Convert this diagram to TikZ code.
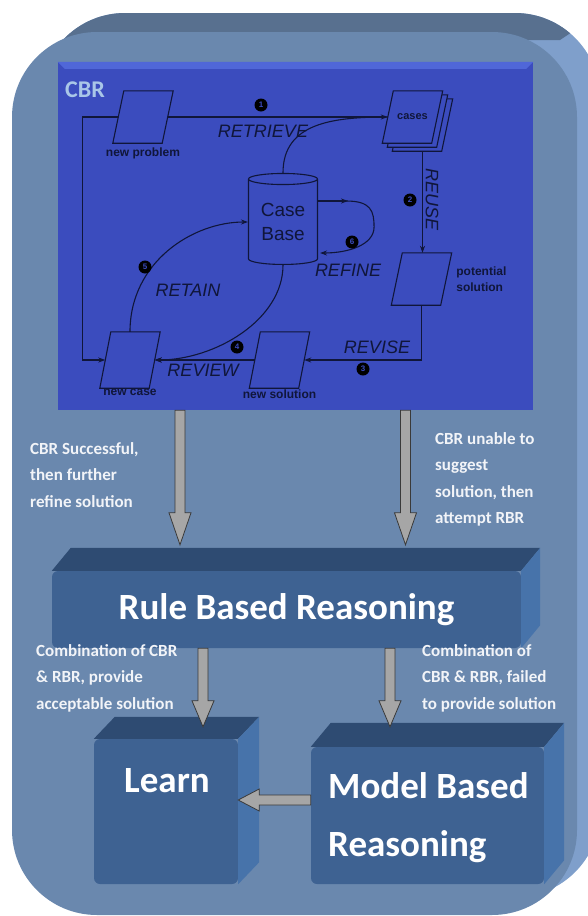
\documentclass[tikz,border=0pt]{standalone}
\usepackage{fontspec}
\setmainfont{Carlito}
\newfontfamily\scanfont{Liberation Sans}
\usetikzlibrary{calc,positioning,shapes.geometric,arrows.meta}

\definecolor{frontface}{HTML}{6A88AE}
\definecolor{backtop}{HTML}{58708F}
\definecolor{backside}{HTML}{7F9FCB}
\definecolor{cbrblue}{HTML}{3B4CBE}
\definecolor{cbrbevel}{HTML}{5067D8}
\definecolor{cbrtitle}{HTML}{A9C6E8}
\definecolor{ink}{HTML}{10163A}
\definecolor{slabfrontcol}{HTML}{3E6292}
\definecolor{slabtopcol}{HTML}{2E4B72}
\definecolor{slabsidecol}{HTML}{4773AA}
\definecolor{arrowgray}{HTML}{A6A6A6}
\definecolor{arrowedge}{HTML}{3A3A3A}
\definecolor{notewhite}{HTML}{F2F4F8}

\begin{document}
\begin{tikzpicture}[x=1pt,y=-1pt,
 >={Stealth[length=7pt,width=5pt]},
 cline/.style={draw=ink,line width=1.1pt},
 paper/.style={rectangle,minimum width=49pt,minimum height=52pt,inner sep=0pt},
 paperlabel/.style={font=\scanfont\bfseries\fontsize{12}{16}\selectfont,text=ink,inner sep=0pt},
 steplabel/.style={font=\scanfont\itshape\fontsize{18}{18}\selectfont,text=ink,inner sep=0pt},
 badge/.style={circle,fill=black,text=cbrblue,inner sep=0pt,minimum size=13pt,
   font=\scanfont\bfseries\fontsize{8}{8}\selectfont},
 slabface/.style={fill=slabfrontcol,rounded corners=6pt,inner sep=0pt,text=white,
   font=\bfseries\fontsize{37}{58}\selectfont},
 slabtext/.style={text=white,inner sep=0pt,font=\bfseries\fontsize{37}{58}\selectfont},
 note/.style={text=notewhite,font=\bfseries\fontsize{17}{26.5}\selectfont,align=left,
   inner sep=0pt,anchor=north west},
 blockarrow/.style={fill=arrowgray,draw=arrowedge,line width=0.8pt,line join=miter}
]

% [height] name, position
\newcommand{\sheet}[3][52]{
 \node[paper,minimum height=#1pt] (#2) at (#3) {};
 \filldraw[cline,fill=cbrblue] ([xshift=5.5pt]#2.north west) -- ([xshift=5.5pt]#2.north east)
   -- ([xshift=-5.5pt]#2.south east) -- ([xshift=-5.5pt]#2.south west) -- cycle;
}

% #1 node, #2 depth right, #3 depth up
\newcommand{\slab}[3]{
 \fill[slabtopcol] (#1.north west) -- ++(#2,-#3)
   -- ($(#1.north east)+(#2,-#3)$) -- (#1.north east) -- cycle;
 \fill[slabsidecol] (#1.north east) -- ++(#2,-#3)
   -- ($(#1.south east)+(#2,-#3)$) -- (#1.south east) -- cycle;
}

% [head length]{from}{to}
\newcommand{\grayarrow}[3][32]{
 \coordinate (ahb) at ($(#3)!#1pt!(#2)$);
 \filldraw[blockarrow] ($(#2)!5pt!90:(#3)$) -- ($(ahb)!5pt!90:(#3)$)
   -- ($(ahb)!11pt!90:(#3)$) -- (#3) -- ($(ahb)!11pt!-90:(#3)$)
   -- ($(ahb)!5pt!-90:(#3)$) -- ($(#2)!5pt!-90:(#3)$) -- cycle;
}

\useasboundingbox (0,0) rectangle (588,916);

% outer frame
\fill[backside,rounded corners=85pt] (40,13) rectangle (600,897);
\begin{scope}
 \clip[rounded corners=85pt] (40,13) rectangle (600,897);
 \fill[backtop] (0,0) -- (620,0) -- (560,40) -- (0,40) -- cycle;
\end{scope}
\fill[frontface,rounded corners=85pt] (12,32) rectangle (577,915);

% CBR panel
\node[fill=cbrblue,minimum width=475pt,minimum height=348pt,inner sep=0pt] (cbr) at (295.5,236) {};
\fill[cbrbevel] (cbr.north west) -- (cbr.north east) -- ++(-7,7)
  -- ($(cbr.north west)+(7,7)$) -- cycle;
\node[text=cbrtitle,inner sep=0pt,anchor=base west,font=\bfseries\fontsize{24}{24}\selectfont]
  (cbrlabel) at (65,97) {CBR};

\sheet{np}{143,117}
\node[paperlabel,below=4pt of np] (nplabel) {new problem};
\sheet{cs3}{422.5,125}
\sheet{cs2}{417.5,121}
\sheet{cs}{412.5,117}
\node[paperlabel,font=\scanfont\bfseries\fontsize{11}{11}\selectfont] (cslabel) at (cs) {cases};
\sheet{ps}{421.5,279}
\node[paperlabel,right=10pt of ps,align=left] (pslabel) {potential\\solution};
\sheet[56]{ns}{279.5,360}
\node[paperlabel,below=1pt of ns] (nslabel) {new solution};
\sheet[56]{nc}{130,360}
\node[paperlabel,below=1pt of nc] (nclabel) {new case};
\node[cylinder,shape border rotate=90,aspect=0.25,draw=ink,line width=1.1pt,fill=cbrblue,
  minimum width=69pt,minimum height=91pt,align=center,inner sep=0pt,text=ink,
  font=\scanfont\fontsize{19}{24}\selectfont] (cb) at (283,222) {Case\\Base};

\draw[cline,->] (np.east) -- (cs.west);
\draw[cline] (cb.north) .. controls +(0,-50) and +(-55,0) .. (cs.west);
\draw[cline,->] (cs3.south) -- (cs3.south |- ps.north);
\draw[cline,->] (ps.south) |- (ns.east);
\draw[cline,->] (ns.west) -- (nc.east);
\draw[cline,->] (cb.south) .. controls +(0,55) and +(60,0) .. (nc.east);
\draw[cline,->] (nc.north) .. controls +(0,-70) and +(-55,0) .. (cb.west);
\draw[cline,->] (np.west) -- ++(-36,0) |- (nc.west);
\coordinate (rfout) at ([yshift=21pt]cb.east);
\coordinate (rfin) at ([xshift=2pt,yshift=-31pt]cb.east);
\draw[cline,->] (rfout) -- ++(30,0);
\draw[cline,->] ([xshift=28pt]rfout) .. controls +(25,0) and +(0,-16) .. ([xshift=56pt,yshift=-5pt]cb.east)
  .. controls +(0,18) and +(28,0) .. (rfin);

\node[badge] (b1) at (261,105) {1};
\node[steplabel] (lretrieve) at (263,131) {RETRIEVE};
\node[badge] (b2) at (410,200) {2};
\node[steplabel,rotate=-90] (lreuse) at (432,200) {REUSE};
\node[badge] (b3) at (363,369) {3};
\node[steplabel] (lrevise) at (377,347) {REVISE};
\node[badge] (b4) at (237,347) {4};
\node[steplabel] (lreview) at (203,370) {REVIEW};
\node[badge] (b5) at (145,267) {5};
\node[steplabel] (lretain) at (188,290) {RETAIN};
\node[badge] (b6) at (352,242) {6};
\node[steplabel] (lrefine) at (348,270) {REFINE};

% reasoning blocks
\node[slabface,minimum width=469pt,minimum height=77pt] (rbr) at (286.5,609.5) {Rule Based Reasoning};
\slab{rbr}{19}{23}
\node[slabface,minimum width=144pt,minimum height=145pt] (learn) at (166,811.5) {};
\slab{learn}{21}{22}
\node[slabtext,anchor=base] (learntxt) at (167,792) {Learn};
\node[slabface,minimum width=233pt,minimum height=137pt] (mbr) at (427.5,815.5) {};
\slab{mbr}{20}{24}
\node[slabtext,align=left,anchor=north west] (mbrtxt) at (328,772) {Model Based\\Reasoning};

\coordinate (a1from) at ([xshift=-115.5pt]cbr.south);
\coordinate (a1to) at ([xshift=-106.5pt,yshift=26pt]rbr.north);
\grayarrow{a1from}{a1to}
\coordinate (a2from) at ([xshift=110pt]cbr.south);
\coordinate (a2to) at ([xshift=119pt,yshift=26pt]rbr.north);
\grayarrow{a2from}{a2to}
\coordinate (a3from) at ([xshift=-83.5pt]rbr.south);
\coordinate (a3to) at ([xshift=37pt,yshift=12pt]learn.north);
\grayarrow[26]{a3from}{a3to}
\coordinate (a4from) at ([xshift=103.5pt]rbr.south);
\coordinate (a4to) at ([xshift=-37.5pt,yshift=20pt]mbr.north);
\grayarrow[26]{a4from}{a4to}
\coordinate (a5from) at ([yshift=15.5pt]mbr.west);
\coordinate (a5to) at ([yshift=11.5pt]learn.east);
\grayarrow[21]{a5from}{a5to}

\node[note] (t1) at (30,442) {CBR Successful,\\then further\\refine solution};
\node[note] (t2) at (435,432) {CBR unable to\\suggest\\solution, then\\attempt RBR};
\node[note] (t3) at (36,644) {Combination of CBR\\\& RBR, provide\\acceptable solution};
\node[note] (t4) at (422,644) {Combination of\\CBR \& RBR, failed\\to provide solution};

\end{tikzpicture}
\end{document}
